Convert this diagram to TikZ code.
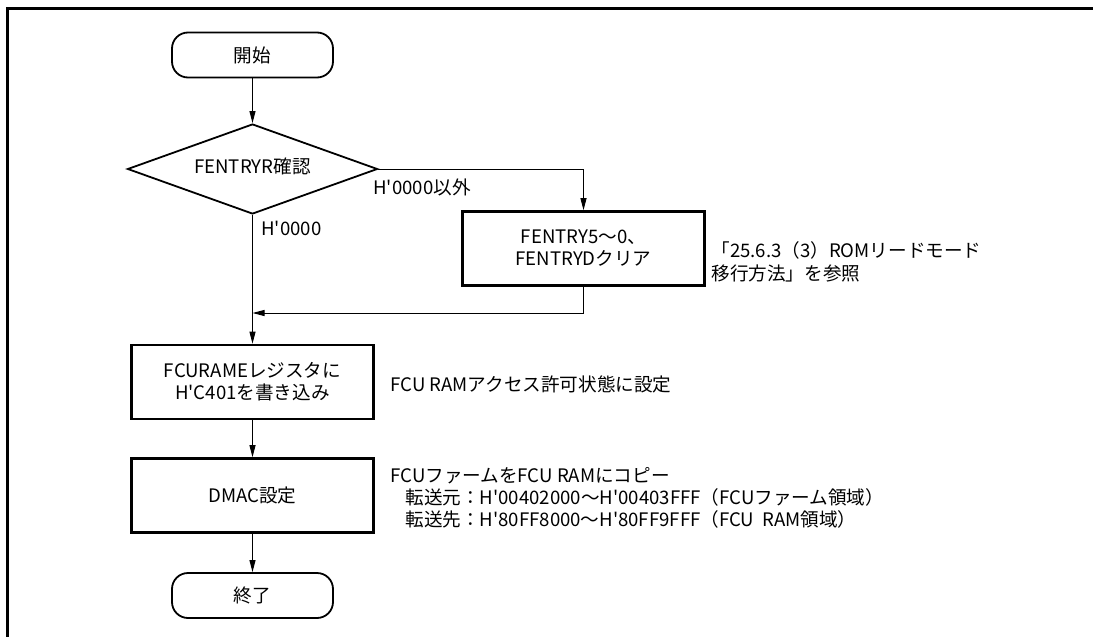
\documentclass[tikz,border=0pt]{standalone}
\usepackage{fontspec}
\setmainfont{Noto Sans CJK JP}[Ligatures=TeXOff]
\usetikzlibrary{shapes.geometric,arrows.meta}
\begin{document}
\begin{tikzpicture}[x=0.5pt,y=-0.5pt,
  every node/.style={font=\fontsize{9.3pt}{11pt}\selectfont, inner sep=0pt},
  term/.style={draw, line width=0.9pt, rounded corners=8pt, minimum width=80.5pt, minimum height=22.5pt, align=center},
  procbox/.style={draw, line width=1.3pt, minimum width=121pt, minimum height=37pt, align=center},
  decide/.style={draw, line width=0.9pt, shape=diamond, aspect=2.78, minimum width=125pt, minimum height=45pt},
  conn/.style={line width=0.5pt},
  arr/.style={conn, -{Triangle[length=6pt,width=3pt]}},
  note/.style={anchor=west, align=left},
  frameline/.style={line width=1.5pt}]
\useasboundingbox (0,0) rectangle (1093,637);
\draw[frameline] (7,637) -- (7,8) -- (1093,8);

\node[term] (start) at (252.5,55) {開始};
\node[decide] (dec) at (252.5,169) {};
\node (dectext) at (252.5,166) {FENTRYR確認};
\node[procbox] (clr) at (583.5,248.5) {FENTRY5〜0、\\FENTRYDクリア};
\node[procbox] (ramen) at (252.5,382) {FCURAMEレジスタに\\H'C401を書き込み};
\node[procbox] (dmac) at (252.5,495.5) {DMAC設定};
\node[term] (fin) at (252.5,595.5) {終了};

\coordinate (rjoin) at (583.5,313);
\coordinate (ljoin) at (252.5,313);

\draw[arr] (start.south) -- (dec.north);
\draw[arr] (dec.east) -| (clr.north);
\draw[arr] (dec.south) -- (ramen.north);
\draw[arr] (clr.south) -- (rjoin) -- (ljoin);
\draw[arr] (ramen.south) -- (dmac.north);
\draw[arr] (dmac.south) -- (fin.north);

\node[anchor=west] (lno) at (373,187) {H'0000以外};
\node[anchor=west] (lyes) at (261,228) {H'0000};

\node[note] (n1a) at (711,250) {「25.6.3（3）ROMリードモード};
\node[note] (n1b) at (711,273) {移行方法」を参照};
\node[note] (n2) at (390,384) {FCU RAMアクセス許可状態に設定};
\node[note] (n3a) at (390,476) {FCUファームをFCU RAMにコピー};
\node[note] (n3b) at (405,497.5) {転送元：H'00402000〜H'00403FFF（FCUファーム領域）};
\node[note] (n3c) at (405,519) {転送先：H'80FF8000〜H'80FF9FFF（FCU\ \ RAM領域）};
\end{tikzpicture}
\end{document}
